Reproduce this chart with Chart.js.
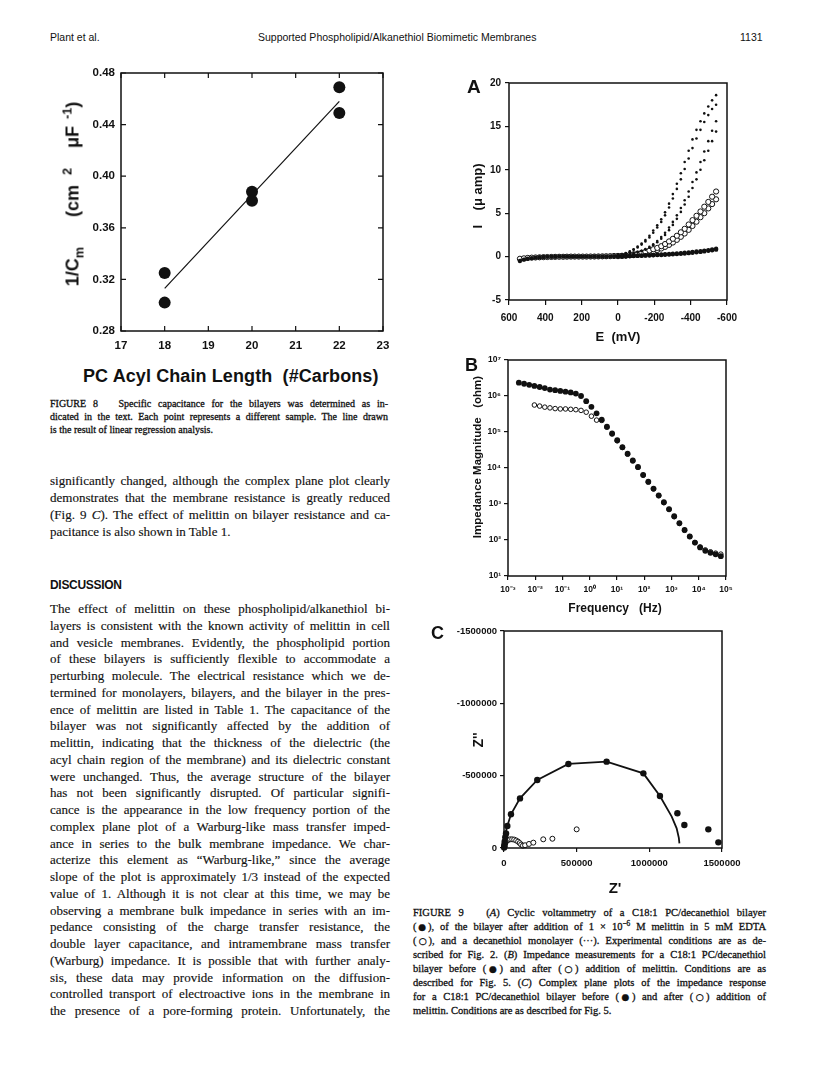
<!DOCTYPE html>
<html>
<head>
<meta charset="utf-8">
<script src="https://cdn.jsdelivr.net/npm/chart.js@4.4.0/dist/chart.umd.min.js"></script>
<style>
  body { margin: 0; background: #fff; }
  #page { position: relative; width: 816px; height: 1067px; overflow: hidden; background: #fff; color: #111; }
  canvas { position: absolute; }
  .t { position: absolute; white-space: nowrap; }
  .sans { font-family: "Liberation Sans", Arial, sans-serif; font-weight: bold; }
  .hdr { font-family: "Liberation Sans", Arial, sans-serif; font-size: 10.5px; top: 31px; }
  .rot { transform: translate(-50%, -50%) rotate(-90deg); }
  .mid { transform: translate(-50%, -50%); }
  .par { position: absolute; font-family: "Liberation Serif", "Times New Roman", serif; -webkit-text-stroke: 0.15px #111; }
  .par div { white-space: nowrap; text-align: justify; text-align-last: justify; }
  .par div.end { text-align-last: left; }
  .cap { -webkit-text-stroke: 0.3px #111; }
  .sym { font-family: "DejaVu Sans", sans-serif; font-size: 85%; margin: 0 -1.5px; }
  sub, sup { font-size: 70%; line-height: 0; }
</style>
</head>
<body>
<div id="page">
  <div class="t hdr" style="left:50px">Plant et al.</div>
  <div class="t hdr" style="left:258px">Supported Phospholipid/Alkanethiol Biomimetic Membranes</div>
  <div class="t hdr" style="left:740px">1131</div>

  <!-- figure 8 -->
  <canvas id="fig8" width="370" height="300" style="left:40px;top:55px"></canvas>
  <div class="t sans rot" style="left:73px;top:194px;font-size:18px">1/C<sub>m</sub>&nbsp;&nbsp;&nbsp;&nbsp;&nbsp;&nbsp;(cm&nbsp;&nbsp;<sup>2</sup>&nbsp;&nbsp;&nbsp;&nbsp;μF<sup>&nbsp;&nbsp;-1</sup>)</div>
  <div class="t sans" style="left:83px;top:366px;font-size:18px;letter-spacing:0.1px">PC Acyl Chain Length&nbsp;&nbsp;(#Carbons)</div>

  <div class="par cap" style="left:50px;top:397px;width:338px;font-size:10px;line-height:13px">
    <div>FIGURE 8&nbsp;&nbsp; Specific capacitance for the bilayers was determined as in-</div>
    <div>dicated in the text. Each point represents a different sample. The line drawn</div>
    <div class="end">is the result of linear regression analysis.</div>
  </div>

  <div class="par" style="left:50px;top:472px;width:340px;font-size:13px;line-height:17px">
    <div>significantly changed, although the complex plane plot clearly</div>
    <div>demonstrates that the membrane resistance is greatly reduced</div>
    <div>(Fig. 9 <i>C</i>). The effect of melittin on bilayer resistance and ca-</div>
    <div class="end">pacitance is also shown in Table 1.</div>
  </div>

  <div class="t sans" style="left:50px;top:578px;font-size:12px;letter-spacing:-0.3px">DISCUSSION</div>

  <div class="par" style="left:50px;top:601px;width:340px;font-size:13px;line-height:16.75px">
    <div>The effect of melittin on these phospholipid/alkanethiol bi-</div>
    <div>layers is consistent with the known activity of melittin in cell</div>
    <div>and vesicle membranes. Evidently, the phospholipid portion</div>
    <div>of these bilayers is sufficiently flexible to accommodate a</div>
    <div>perturbing molecule. The electrical resistance which we de-</div>
    <div>termined for monolayers, bilayers, and the bilayer in the pres-</div>
    <div>ence of melittin are listed in Table 1. The capacitance of the</div>
    <div>bilayer was not significantly affected by the addition of</div>
    <div>melittin, indicating that the thickness of the dielectric (the</div>
    <div>acyl chain region of the membrane) and its dielectric constant</div>
    <div>were unchanged. Thus, the average structure of the bilayer</div>
    <div>has not been significantly disrupted. Of particular signifi-</div>
    <div>cance is the appearance in the low frequency portion of the</div>
    <div>complex plane plot of a Warburg-like mass transfer imped-</div>
    <div>ance in series to the bulk membrane impedance. We char-</div>
    <div>acterize this element as “Warburg-like,” since the average</div>
    <div>slope of the plot is approximately 1/3 instead of the expected</div>
    <div>value of 1. Although it is not clear at this time, we may be</div>
    <div>observing a membrane bulk impedance in series with an im-</div>
    <div>pedance consisting of the charge transfer resistance, the</div>
    <div>double layer capacitance, and intramembrane mass transfer</div>
    <div>(Warburg) impedance. It is possible that with further analy-</div>
    <div>sis, these data may provide information on the diffusion-</div>
    <div>controlled transport of electroactive ions in the membrane in</div>
    <div>the presence of a pore-forming protein. Unfortunately, the</div>
  </div>

  <!-- figure 9 -->
  <canvas id="fig9a" width="312" height="265" style="left:440px;top:65px"></canvas>
  <div class="t sans" style="left:467px;top:76px;font-size:19px">A</div>
  <div class="t sans rot" style="left:477px;top:196px;font-size:13px">I&nbsp;&nbsp;&nbsp;&nbsp;(μ amp)</div>
  <div class="t sans mid" style="left:618px;top:336px;font-size:13px">E&nbsp;&nbsp;(mV)</div>

  <canvas id="fig9b" width="312" height="262" style="left:440px;top:342px"></canvas>
  <div class="t sans" style="left:465px;top:355px;font-size:18px">B</div>
  <div class="t sans rot" style="left:477px;top:457px;font-size:11.5px">Impedance Magnitude&nbsp;&nbsp;&nbsp;(ohm)</div>
  <div class="t sans mid" style="left:615px;top:608px;font-size:12px">Frequency&nbsp;&nbsp;&nbsp;(Hz)</div>

  <canvas id="fig9c" width="330" height="265" style="left:430px;top:613px"></canvas>
  <div class="t sans" style="left:431px;top:623px;font-size:18px">C</div>
  <div class="t sans rot" style="left:478px;top:740px;font-size:14px">Z''</div>
  <div class="t sans mid" style="left:615px;top:887px;font-size:15px">Z'</div>

  <div class="par cap" style="left:413px;top:906px;width:353px;font-size:10.5px;line-height:14px">
    <div>FIGURE 9&nbsp;&nbsp; (<i>A</i>) Cyclic voltammetry of a C18:1 PC/decanethiol bilayer</div>
    <div>(<span class="sym">●</span>), of the bilayer after addition of 1 × 10<sup>−6</sup> M melittin in 5 mM EDTA</div>
    <div>(<span class="sym">○</span>), and a decanethiol monolayer (···). Experimental conditions are as de-</div>
    <div>scribed for Fig. 2. (<i>B</i>) Impedance measurements for a C18:1 PC/decanethiol</div>
    <div>bilayer before (<span class="sym">●</span>) and after (<span class="sym">○</span>) addition of melittin. Conditions are as</div>
    <div>described for Fig. 5. (<i>C</i>) Complex plane plots of the impedance response</div>
    <div>for a C18:1 PC/decanethiol bilayer before (<span class="sym">●</span>) and after (<span class="sym">○</span>) addition of</div>
    <div class="end">melittin. Conditions are as described for Fig. 5.</div>
  </div>
</div>

<script>
// ---- Figure 8 : 1/Cm vs acyl chain length
const chainLength = [18, 18, 20, 20, 22, 22];
const invCm = [0.325, 0.302, 0.388, 0.381, 0.469, 0.449];
const fitX = [18, 22];
const fitY = [0.313, 0.458];
const fig8XTicks = [17, 18, 19, 20, 21, 22, 23];
const fig8XLabels = ['17', '18', '19', '20', '21', '22', '23'];
const fig8YTicks = [0.28, 0.32, 0.36, 0.40, 0.44, 0.48];
const fig8YLabels = ['0.28', '0.32', '0.36', '0.40', '0.44', '0.48'];

// ---- Figure 9A : cyclic voltammetry
const potentialMv = [540, 518, 497, 475, 454, 432, 410, 389, 367, 346, 324, 302, 281, 259, 238, 216, 194, 173, 151, 130, 108, 86, 65, 43, 22, 0,
  -22, -43, -65, -86, -108, -130, -151, -173, -194, -216, -238, -259, -281, -302, -324, -346, -367, -389, -410, -432, -454, -475, -497, -518, -540];
const bilayerI = [-0.5, -0.35, -0.25, -0.18, -0.12, -0.08, -0.05, -0.03, -0.02, -0.01, 0, 0, 0, 0, 0, 0, 0, 0, 0, 0.01, 0.01, 0.02, 0.02, 0.03, 0.04, 0.05,
  0.06, 0.07, 0.08, 0.1, 0.11, 0.13, 0.15, 0.17, 0.19, 0.21, 0.24, 0.27, 0.3, 0.33, 0.36, 0.4, 0.44, 0.48, 0.53, 0.58, 0.63, 0.69, 0.75, 0.82, 0.9];
// return sweeps, E from 0 to -540 mV
const bilayerReturnI = [0.03, 0.04, 0.05, 0.06, 0.07, 0.08, 0.1, 0.11, 0.13, 0.15, 0.17, 0.19, 0.21, 0.23, 0.26, 0.29, 0.32, 0.36, 0.4, 0.44, 0.49, 0.54, 0.6, 0.66, 0.73, 0.8];
const melittinI = [-0.25, -0.2, -0.15, -0.12, -0.1, -0.08, -0.06, -0.05, -0.04, -0.03, -0.02, -0.02, -0.01, 0, 0, 0, 0, 0, 0.01, 0.01, 0.02, 0.03, 0.04, 0.05, 0.07, 0.08,
  0.1, 0.14, 0.2, 0.27, 0.35, 0.45, 0.56, 0.7, 0.85, 1.0, 1.2, 1.45, 1.75, 2.05, 2.4, 2.8, 3.2, 3.7, 4.2, 4.7, 5.2, 5.75, 6.3, 6.9, 7.5];
const melittinReturnI = [0.05, 0.07, 0.1, 0.14, 0.19, 0.25, 0.32, 0.4, 0.5, 0.62, 0.76, 0.93, 1.12, 1.35, 1.62, 1.93, 2.28, 2.66, 3.08, 3.53, 4.02, 4.54, 5.0, 5.55, 6.05, 6.6];
const monolayerI1 = [0.15, 0.25, 0.4, 0.6, 0.85, 1.15, 1.5, 1.9, 2.4, 3.0, 3.6, 4.3, 5.1, 6.1, 7.2, 8.4, 9.6, 10.9, 12.2, 13.5, 14.6, 15.6, 16.5, 17.3, 18.0, 18.6];
const monolayerI2 = [0.14, 0.23, 0.37, 0.55, 0.78, 1.05, 1.38, 1.75, 2.2, 2.75, 3.35, 4.0, 4.75, 5.65, 6.7, 7.8, 8.9, 10.1, 11.3, 12.5, 13.6, 14.6, 15.5, 16.3, 17.0, 17.5];
const monolayerI3 = [0.1, 0.15, 0.22, 0.3, 0.4, 0.52, 0.68, 0.88, 1.12, 1.42, 1.8, 2.25, 2.75, 3.35, 4.0, 4.75, 5.6, 6.5, 7.5, 8.6, 9.7, 10.9, 12.1, 13.3, 14.5, 15.6];
const monolayerI4 = [0.09, 0.14, 0.2, 0.28, 0.37, 0.48, 0.62, 0.8, 1.02, 1.3, 1.65, 2.05, 2.5, 3.05, 3.65, 4.35, 5.15, 6.0, 6.9, 7.9, 8.9, 10.0, 11.1, 12.2, 13.3, 14.4];
const fig9aXTicks = [600, 400, 200, 0, -200, -400, -600];
const fig9aXLabels = ['600', '400', '200', '0', '-200', '-400', '-600'];
const fig9aYTicks = [-5, 0, 5, 10, 15, 20];
const fig9aYLabels = ['-5', '0', '5', '10', '15', '20'];

// ---- Figure 9B : impedance magnitude (Bode)
const freqHz = [0.0025, 0.0039, 0.006, 0.0093, 0.0145, 0.0224, 0.0347, 0.0537, 0.0832, 0.129, 0.2, 0.309, 0.479, 0.741, 1.15, 1.78, 2.75, 4.27, 6.61, 10.2,
  15.8, 24.5, 38.0, 58.9, 91.2, 141, 219, 339, 525, 813, 1259, 1950, 3020, 4677, 7244, 11220, 17380, 26920, 41690, 64570];
const zBefore = [2.34e6, 2.19e6, 2.04e6, 1.91e6, 1.78e6, 1.66e6, 1.51e6, 1.45e6, 1.38e6, 1.32e6, 1.26e6, 1.17e6, 1.0e6, 7.2e5, 5.0e5, 3.3e5, 2.2e5, 1.41e5, 9.1e4, 5.9e4,
  3.8e4, 2.5e4, 1.62e4, 1.07e4, 6460, 4170, 2690, 1740, 1120, 724, 457, 295, 191, 126, 85, 62, 50, 44, 40, 35.5];
const zAfter = [null, null, null, 5.62e5, 5.25e5, 4.9e5, 4.68e5, 4.47e5, 4.37e5, 4.37e5, 4.27e5, 4.17e5, 3.98e5, 3.55e5, 2.75e5, 2.14e5, 2.1e5, 1.36e5, 8.8e4, 5.7e4,
  3.7e4, 2.42e4, 1.57e4, 1.04e4, 6260, 4050, 2610, 1690, 1090, 703, 444, 287, 186, 124, 85, 64, 53, 47, 43, 40.5];
const fig9bXTicks = [1e-3, 1e-2, 1e-1, 1e0, 1e1, 1e2, 1e3, 1e4, 1e5];
const fig9bXLabels = ['10⁻³', '10⁻²', '10⁻¹', '10⁰', '10¹', '10²', '10³', '10⁴', '10⁵'];
const fig9bYTicks = [1e1, 1e2, 1e3, 1e4, 1e5, 1e6, 1e7];
const fig9bYLabels = ['10¹', '10²', '10³', '10⁴', '10⁵', '10⁶', '10⁷'];

// ---- Figure 9C : complex plane
const zReBefore = [1000, 2000, 3000, 5000, 9000, 14000, 23000, 48000, 110000, 229000, 443000, 706000, 959000, 1073000, 1193000, 1241000, 1406000, 1475000];
const zImBefore = [-3000, -12000, -25000, -45000, -75000, -100000, -152000, -233000, -343000, -470000, -581000, -597000, -516000, -359000, -240000, -159000, -129000, -39000];
const zReAfter = [3000, 8000, 15000, 28000, 42000, 56000, 70000, 84000, 97000, 108000, 118000, 130000, 145000, 172000, 202000, 270000, 333000, 500000];
const zImAfter = [-10000, -30000, -45000, -55000, -60000, -60000, -58000, -52000, -44000, -34000, -24000, -16000, -19000, -28000, -37000, -60000, -64000, -129000];
const zReFit = [0, 2000, 5000, 9000, 23000, 48000, 110000, 229000, 443000, 706000, 959000, 1073000, 1154000, 1188000, 1203000, 1207000];
const zImFit = [0, -18000, -53000, -99000, -152000, -233000, -343000, -470000, -581000, -597000, -516000, -359000, -217000, -136000, -70000, -32000];
const fig9cXTicks = [0, 500000, 1000000, 1500000];
const fig9cXLabels = ['0', '500000', '1000000', '1500000'];
const fig9cYTicks = [-1500000, -1000000, -500000, 0];
const fig9cYLabels = ['-1500000', '-1000000', '-500000', '0'];

const INK = '#111';
Chart.defaults.font.family = '"Liberation Sans", Arial, sans-serif';
Chart.defaults.color = INK;
Chart.defaults.animation = false;

const pairs = (xs, ys) => xs.map((x, i) => ({ x: x, y: ys[i] }));

// box around plot area, optional inward ticks
const framePlugin = {
  id: 'frame',
  afterDraw(chart, args, opts) {
    const { ctx, chartArea: a, scales } = chart;
    ctx.save();
    ctx.strokeStyle = INK;
    ctx.lineWidth = opts.width || 1.5;
    ctx.strokeRect(a.left, a.top, a.right - a.left, a.bottom - a.top);
    if (opts.inTicks) {
      const L = opts.inTicks;
      ctx.lineWidth = 1.2;
      ctx.beginPath();
      scales.x.ticks.forEach(t => {
        const px = scales.x.getPixelForValue(t.value);
        ctx.moveTo(px, a.bottom); ctx.lineTo(px, a.bottom - L);
        ctx.moveTo(px, a.top); ctx.lineTo(px, a.top + L);
      });
      scales.y.ticks.forEach(t => {
        const py = scales.y.getPixelForValue(t.value);
        ctx.moveTo(a.left, py); ctx.lineTo(a.left + L, py);
        ctx.moveTo(a.right, py); ctx.lineTo(a.right - L, py);
      });
      ctx.stroke();
    }
    ctx.restore();
  }
};

function scale(o) {
  return {
    type: o.type || 'linear',
    min: o.min, max: o.max, reverse: !!o.reverse,
    afterFit: s => { if (o.w) s.width = o.w; if (o.h) s.height = o.h; },
    afterBuildTicks: s => { s.ticks = o.vals.map(v => ({ value: v })); },
    grid: { drawOnChartArea: false, drawTicks: o.tl > 0, tickLength: o.tl, color: INK, lineWidth: 1.2 },
    border: { display: false },
    ticks: {
      font: { size: o.fs, weight: 'bold' }, padding: o.pad, color: INK,
      autoSkip: false, maxRotation: 0,
      callback: (v, i) => o.labels[i]
    }
  };
}

// datasets are listed top layer first (Chart.js paints the first one last)
function makeChart(id, datasets, xs, ys, pad, frameOpts) {
  return new Chart(document.getElementById(id), {
    type: 'scatter',
    data: { datasets: datasets },
    options: {
      responsive: false,
      layout: { padding: pad },
      plugins: { legend: { display: false }, tooltip: { enabled: false }, frame: frameOpts || {} },
      scales: { x: xs, y: ys }
    },
    plugins: [framePlugin]
  });
}

const dots = (data, r, fill, bw) => ({
  data: data, showLine: false, clip: false,
  pointRadius: r, pointHoverRadius: r,
  pointBackgroundColor: fill, pointBorderColor: INK, pointBorderWidth: bw
});

// figure 8
makeChart('fig8', [
  dots(pairs(chainLength, invCm), 6, INK, 0),
  { data: pairs(fitX, fitY), showLine: true, borderColor: INK, borderWidth: 1.2, pointRadius: 0 }
],
  scale({ min: 17, max: 23, vals: fig8XTicks, labels: fig8XLabels, fs: 11.5, pad: 8, tl: 0, h: 24 }),
  scale({ min: 0.28, max: 0.48, vals: fig8YTicks, labels: fig8YLabels, fs: 11.5, pad: 6, tl: 0, w: 81 }),
  { left: 0, top: 18, right: 27, bottom: 0 }, { inTicks: 5 });

// figure 9A
const sweepE = potentialMv.slice(25);
makeChart('fig9a', [
  dots(pairs(sweepE, monolayerI1), 1.3, INK, 0),
  dots(pairs(sweepE, monolayerI2), 1.3, INK, 0),
  dots(pairs(sweepE, monolayerI3), 1.3, INK, 0),
  dots(pairs(sweepE, monolayerI4), 1.3, INK, 0),
  dots(pairs(potentialMv, bilayerI), 2.2, INK, 0),
  dots(pairs(sweepE, bilayerReturnI), 2.2, INK, 0),
  dots(pairs(potentialMv, melittinI), 2.6, '#fff', 1),
  dots(pairs(sweepE, melittinReturnI), 2.6, '#fff', 1)
],
  scale({ min: -600, max: 600, reverse: true, vals: fig9aXTicks, labels: fig9aXLabels, fs: 10, pad: 7, tl: 5, h: 30 }),
  scale({ min: -5, max: 20, vals: fig9aYTicks, labels: fig9aYLabels, fs: 10, pad: 4, tl: 4, w: 69 }),
  { left: 0, top: 18, right: 25, bottom: 0 });

// figure 9B
makeChart('fig9b', [
  dots(pairs(freqHz, zBefore), 2.9, INK, 0),
  dots(pairs(freqHz, zAfter), 2.3, '#fff', 1)
],
  scale({ type: 'logarithmic', min: 1e-3, max: 1e5, vals: fig9bXTicks, labels: fig9bXLabels, fs: 8.5, pad: 5, tl: 4, h: 28 }),
  scale({ type: 'logarithmic', min: 1e1, max: 1e7, vals: fig9bYTicks, labels: fig9bYLabels, fs: 8.5, pad: 3, tl: 4, w: 68 }),
  { left: 0, top: 18, right: 26, bottom: 0 });

// figure 9C
makeChart('fig9c', [
  dots(pairs(zReBefore, zImBefore), 3.2, INK, 0),
  dots(pairs(zReAfter, zImAfter), 2.5, '#fff', 1),
  { data: pairs(zReFit, zImFit), showLine: true, borderColor: INK, borderWidth: 1.8, pointRadius: 0, clip: false }
],
  scale({ min: 0, max: 1500000, vals: fig9cXTicks, labels: fig9cXLabels, fs: 9.5, pad: 6, tl: 4, h: 30 }),
  scale({ min: -1500000, max: 0, reverse: true, vals: fig9cYTicks, labels: fig9cYLabels, fs: 9.5, pad: 3, tl: 4, w: 74 }),
  { left: 0, top: 18, right: 38, bottom: 0 });
</script>
</body>
</html>
